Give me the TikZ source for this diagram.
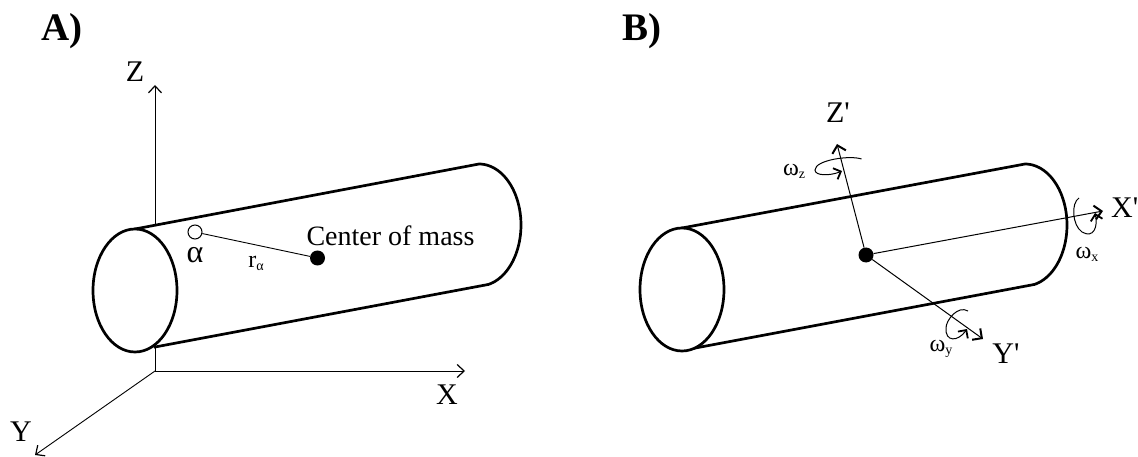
\documentclass[tikz,border=0pt]{standalone}
\usepackage{fontspec}
\setmainfont[Ligatures=TeXOff]{Liberation Serif}
\usetikzlibrary{arrows.meta,shapes.geometric}
\tikzset{
  x=1pt,y=-1pt,
  axisline/.style={line width=0.9pt,-{Straight Barb[length=7pt,width=13pt,line width=1.2pt]}},
  axisbold/.style={line width=1pt,-{Straight Barb[length=7pt,width=14pt,line width=2pt]}},
  plainline/.style={line width=0.9pt},
  tube/.style={line width=2.7pt},
  rotarrow/.style={line width=1pt,-{Straight Barb[length=6pt,width=12pt,line width=1.8pt]}},
  endcap/.style={draw,ellipse,line width=2.7pt,fill=white,minimum width=84pt,minimum height=123pt,inner sep=0pt},
  lab/.style={inner sep=0pt,font=\fontsize{30}{30}\selectfont},
  small/.style={inner sep=0pt,font=\fontsize{24}{24}\selectfont},
  panel/.style={inner sep=0pt,font=\fontsize{39}{39}\selectfont\bfseries},
  dotfull/.style={circle,fill=black,minimum size=15pt,inner sep=0pt},
  dotopen/.style={circle,draw,line width=1pt,fill=white,minimum size=14pt,inner sep=0pt},
}
\begin{document}
\begin{tikzpicture}
\useasboundingbox (0,0) rectangle (1138,457);
% Panel A
\node[panel] (pa) at (62,31) {A)};
\node[panel] (pb) at (642,31) {B)};
\coordinate (O) at (155,371);
\coordinate (Zt) at (155,85);
\coordinate (Xt) at (465,371);
\coordinate (Yt) at (35,455);
\draw[axisline] (O) -- (Zt);
\draw[axisline] (O) -- (Xt);
\draw[axisline] (O) -- (Yt);
\node[lab] (zl) at (135,72) {Z};
\node[lab] (xl) at (447,395) {X};
\node[lab] (yl) at (21,432) {Y};
\coordinate (At) at (479,164);
\coordinate (Ab) at (155,347);
\draw[tube,fill=white] (135,229) -- (At) -- plot[domain=-90:77,samples=50] ({479+42*cos(\x)},{225+61*sin(\x)}) -- (Ab) -- (135,290) -- cycle;
\node[endcap] (ea) at (135,290.5) {};
\node[dotopen] (al) at (195,232) {};
\node[dotfull] (cm) at (317.5,258) {};
\draw[plainline] (al) -- (cm);
\node[lab,font=\fontsize{28}{28}\selectfont] (cml) at (390.5,236) {Center of mass};
\node[lab,font=\fontsize{32}{32}\selectfont] (all) at (195,255) {α};
\node[small] (rl) at (256,263) {r\raisebox{-3pt}{\fontsize{14}{14}\selectfont α}};
% Panel B
\coordinate (Bt) at (1025,164);
\coordinate (Bb) at (690,349);
\draw[tube,fill=white] (682,228) -- (Bt) -- plot[domain=-90:77,samples=50] ({1025+42*cos(\x)},{225+61*sin(\x)}) -- (Bb) -- (682,290) -- cycle;
\node[endcap] (eb) at (682,289.5) {};
\node[dotfull] (cb) at (866,255) {};
\coordinate (Zp) at (837,144);
\coordinate (Xp) at (1103,211);
\coordinate (Yp) at (983,339);
\draw[axisbold] (cb) -- (Zp);
\draw[axisbold] (cb) -- (Xp);
\draw[axisbold] (cb) -- (Yp);
\node[lab] (zpl) at (838,113) {Z'};
\node[lab,anchor=west] (xpl) at (1111,208) {X'};
\node[lab] (ypl) at (1006,354) {Y'};
\node[small] (wz) at (794,171) {ω\raisebox{-3pt}{\fontsize{14}{14}\selectfont z}};
\node[small] (wx) at (1087,254) {ω\raisebox{-3pt}{\fontsize{14}{14}\selectfont x}};
\node[small] (wy) at (941,349) {ω\raisebox{-3pt}{\fontsize{14}{14}\selectfont y}};
\coordinate (a1) at (861.5,159);
\coordinate (a2) at (842,171);
\draw[rotarrow] (a1) .. controls (850,155) and (815,160) .. (815,170) .. controls (815,176) and (830,176) .. (a2);
\coordinate (b1) at (1079,198);
\coordinate (b2) at (1095,213);
\draw[rotarrow] (b1) .. controls (1071,203) and (1072,225) .. (1082,232) .. controls (1094,239) and (1098,226) .. (b2);
\coordinate (c1) at (968,311);
\coordinate (c2) at (967,329);
\draw[rotarrow] (c1) .. controls (958,305) and (946,320) .. (946,328) .. controls (945,342) and (958,342) .. (c2);
\end{tikzpicture}
\end{document}
